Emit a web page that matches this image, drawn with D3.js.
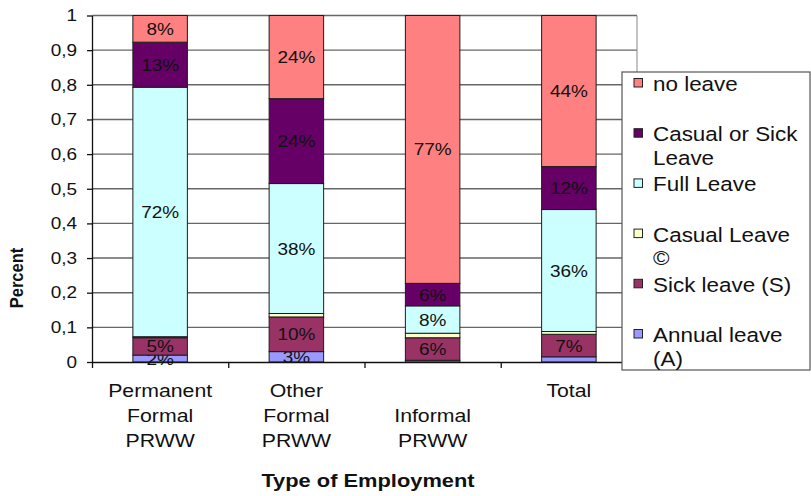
<!DOCTYPE html>
<html>
<head>
<meta charset="utf-8">
<script src="https://cdn.jsdelivr.net/npm/d3@7"></script>
<style>
  body { margin: 0; background: #fff; }
  svg { display: block; }
  text { font-family: "Liberation Sans", Arial, sans-serif; fill: #111; }
</style>
</head>
<body>
<svg id="chart" width="811" height="496"></svg>
<script>
// categories (label lines as they wrap under the axis)
var categories = ["Permanent Formal PRWW", "Other Formal PRWW", "Informal PRWW", "Total"];
var categoryLines = [["Permanent", "Formal", "PRWW"], ["Other", "Formal", "PRWW"], ["", "Informal", "PRWW"], ["Total"]];

// series values, bottom of the stack first
var annualLeave  = [0.020, 0.030, 0.005, 0.015];
var sickLeave    = [0.050, 0.100, 0.065, 0.065];
var casualLeave  = [0.003, 0.010, 0.013, 0.008];
var fullLeave    = [0.720, 0.375, 0.079, 0.352];
var casualOrSick = [0.130, 0.245, 0.065, 0.124];
var noLeave      = [0.077, 0.240, 0.773, 0.436];

// data labels printed on the bars
var annualLabels = ["2%", "3%", "", ""];
var sickLabels   = ["5%", "10%", "6%", "7%"];
var casualLabels = ["", "", "", ""];
var fullLabels   = ["72%", "38%", "8%", "36%"];
var cosLabels    = ["13%", "24%", "6%", "12%"];
var noLeaveLabels = ["8%", "24%", "77%", "44%"];

var seriesNames = ["Annual leave (A)", "Sick leave (S)", "Casual Leave ©", "Full Leave", "Casual or Sick Leave", "no leave"];
var legendLines = [["Annual leave", "(A)"], ["Sick leave (S)"], ["Casual Leave", "©"], ["Full Leave"], ["Casual or Sick", "Leave"], ["no leave"]];
var seriesColors = ["#9999FF", "#993366", "#FFFFCC", "#CCFFFF", "#660066", "#FF8080"];

var yTicks = [0, 0.1, 0.2, 0.3, 0.4, 0.5, 0.6, 0.7, 0.8, 0.9, 1];
var yTickLabels = ["0", "0,1", "0,2", "0,3", "0,4", "0,5", "0,6", "0,7", "0,8", "0,9", "1"];

var SX = 1.15; // the source text is a bit wider than Arial

var allValues = [annualLeave, sickLeave, casualLeave, fullLeave, casualOrSick, noLeave];
var allLabels = [annualLabels, sickLabels, casualLabels, fullLabels, cosLabels, noLeaveLabels];

var margin = {top: 15.5, left: 92, right: 174, bottom: 134};
var width = 811, height = 496;
var x0 = margin.left, x1 = width - margin.right;
var y0 = height - margin.bottom, y1 = margin.top;

var svg = d3.select("#chart");

var xScale = d3.scaleBand()
    .domain(categories)
    .range([x0, x1])
    .paddingInner(0.6)
    .paddingOuter(0.3);
var xEdge = d3.scaleLinear().domain([0, categories.length]).range([x0, x1]);
var yScale = d3.scaleLinear().domain([0, 1]).range([y0, y1]);

// gridlines
svg.append("g")
    .selectAll("line")
    .data(yTicks.slice(1))
    .enter().append("line")
    .attr("x1", x0).attr("x2", x1)
    .attr("y1", function (d) { return yScale(d); })
    .attr("y2", function (d) { return yScale(d); })
    .attr("stroke", "#666").attr("stroke-width", 1.4);

// right edge of the plot area
svg.append("line")
    .attr("x1", x1).attr("x2", x1)
    .attr("y1", yScale(1)).attr("y2", yScale(0))
    .attr("stroke", "#888").attr("stroke-width", 1);

// stacked bars
var table = categories.map(function (c, i) {
    var row = {cat: c};
    seriesNames.forEach(function (s, k) { row[s] = allValues[k][i]; });
    return row;
});
var stacked = d3.stack().keys(seriesNames)(table);

var layers = svg.append("g").selectAll("g")
    .data(stacked)
    .enter().append("g")
    .attr("fill", function (d, k) { return seriesColors[k]; });

layers.selectAll("rect")
    .data(function (d) { return d; })
    .enter().append("rect")
    .attr("x", function (d) { return xScale(d.data.cat); })
    .attr("y", function (d) { return yScale(d[1]); })
    .attr("width", xScale.bandwidth())
    .attr("height", function (d) { return yScale(d[0]) - yScale(d[1]); })
    .attr("stroke", "#1c1c1c")
    .attr("stroke-width", 1);

// bar labels
layers.each(function (layer, k) {
    d3.select(this).selectAll("text")
        .data(layer)
        .enter().append("text")
        .text(function (d, i) { return allLabels[k][i]; })
        .attr("text-anchor", "middle")
        .style("font-size", "16.5px")
        .attr("fill", "#1a1a1a")
        .attr("transform", function (d) {
            var cx = xScale(d.data.cat) + xScale.bandwidth() / 2;
            var cy = yScale((d[0] + d[1]) / 2) + 6;
            return "translate(" + cx + "," + cy + ") scale(" + SX + ",1)";
        });
});

// y axis
var yAxis = svg.append("g")
    .attr("transform", "translate(" + x0 + ",0)")
    .call(d3.axisLeft(yScale)
        .tickValues(yTicks)
        .tickFormat(function (d, i) { return yTickLabels[i]; })
        .tickSize(5)
        .tickSizeOuter(0)
        .tickPadding(8));
yAxis.select(".domain").attr("stroke", "#111").attr("stroke-width", 1.3);
yAxis.selectAll(".tick line").attr("stroke", "#111").attr("stroke-width", 1.3);
yAxis.selectAll("text")
    .style("font-size", "16.5px")
    .style("font-family", "'Liberation Sans', Arial, sans-serif")
    .attr("fill", "#222")
    .attr("transform", "scale(" + SX + ",1)");

// x axis with ticks between categories
var xAxis = svg.append("g")
    .attr("transform", "translate(0," + y0 + ")")
    .call(d3.axisBottom(xEdge)
        .tickValues(d3.range(categories.length + 1))
        .tickFormat("")
        .tickSize(6)
        .tickSizeOuter(0));
xAxis.select(".domain").attr("stroke", "#111").attr("stroke-width", 1.3);
xAxis.selectAll(".tick line").attr("stroke", "#111").attr("stroke-width", 1.3);

// category labels
categories.forEach(function (c, i) {
    var cx = xScale(c) + xScale.bandwidth() / 2;
    categoryLines[i].forEach(function (line, j) {
        svg.append("text")
            .text(line)
            .attr("text-anchor", "middle")
            .style("font-size", "18.5px")
            .attr("fill", "#222")
            .attr("transform", "translate(" + cx + "," + (y0 + 35 + j * 25) + ") scale(" + SX + ",1)");
    });
});

// axis titles
svg.append("text")
    .text("Type of Employment")
    .attr("text-anchor", "middle")
    .style("font-size", "19px")
    .style("font-weight", "bold")
    .attr("transform", "translate(368,487) scale(" + SX + ",1)");

svg.append("text")
    .text("Percent")
    .attr("text-anchor", "middle")
    .style("font-size", "16.5px")
    .style("font-weight", "bold")
    .attr("transform", "translate(23,278) scale(" + SX + ",1) rotate(-90)");

// legend
var legend = svg.append("g").attr("transform", "translate(622,72)");
legend.append("rect")
    .attr("width", 188).attr("height", 298)
    .attr("fill", "#fff")
    .attr("stroke", "#555").attr("stroke-width", 1.2);

var order = d3.range(seriesNames.length).reverse();
order.forEach(function (k, r) {
    var by = 19 + r * 50.2;
    legend.append("rect")
        .attr("x", 12).attr("y", by - 12.5)
        .attr("width", 8.5).attr("height", 8.5)
        .attr("fill", seriesColors[k])
        .attr("stroke", "#222").attr("stroke-width", 1);
    legendLines[k].forEach(function (line, j) {
        legend.append("text")
            .text(line)
            .style("font-size", "19.5px")
            .attr("fill", "#222")
            .attr("transform", "translate(31," + (by + j * 23.5) + ") scale(" + SX + ",1)");
    });
});
</script>
</body>
</html>
